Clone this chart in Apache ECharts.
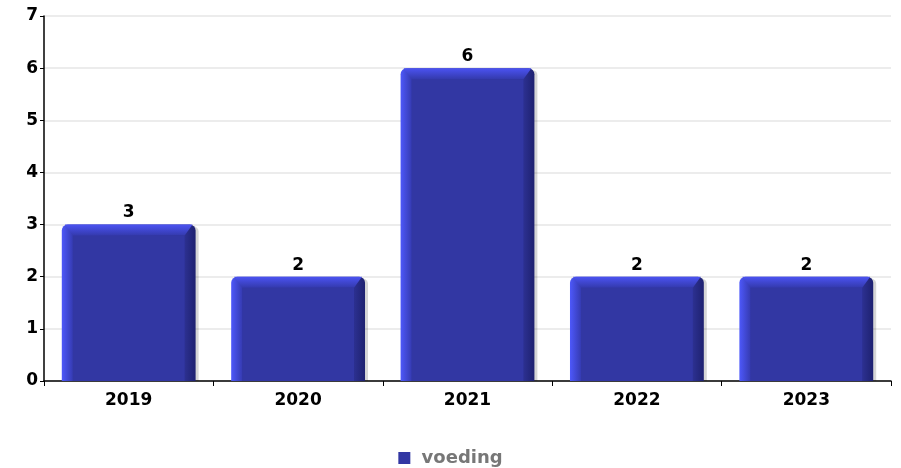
<!DOCTYPE html>
<html>
<head>
<meta charset="utf-8">
<script src="https://cdn.jsdelivr.net/npm/echarts@6/dist/echarts.min.js"></script>
<style>
html,body{margin:0;padding:0;background:#fff;}
#chart{width:901px;height:468px;}
</style>
</head>
<body>
<div id="chart"></div>
<script>
const categories = ['2019', '2020', '2021', '2022', '2023'];
const seriesName = 'voeding';
const values = [3, 2, 6, 2, 2];
const yTicks = [0, 1, 2, 3, 4, 5, 6, 7];

const FONT = '"DejaVu Sans", sans-serif';
const chart = echarts.init(document.getElementById('chart'));

function renderItem(params, api) {
  const idx = api.value(0);
  const v = api.value(1);
  const top = api.coord([idx, v]);
  const base = api.coord([idx, 0]);
  const w = api.size([1, 0])[0] * 0.79;
  const l = top[0] - w / 2, r = top[0] + w / 2, t = top[1], b = base[1];
  const bv = 11;
  const h = b - t;
  return {
    type: 'group',
    children: [
      { type: 'rect', shape: { x: l + 3, y: t + 2, width: w, height: h - 2, r: [5, 5, 0, 0] },
        style: { fill: 'rgba(0,0,0,0.16)' } },
      { type: 'rect', shape: { x: l, y: t, width: w, height: h, r: [6, 6, 0, 0] },
        style: { fill: new echarts.graphic.LinearGradient(0, 0, 1, 0, [
          { offset: 0, color: '#4d58fa' }, { offset: 0.085, color: '#353ab0' },
          { offset: 0.5, color: '#3237a3' },
          { offset: 0.915, color: '#2d3192' }, { offset: 1, color: '#1e2170' }]) } },
      { type: 'polygon', shape: { points: [[l + 3, t], [r - 3, t], [r - bv, t + bv], [l + bv, t + bv]] },
        style: { fill: new echarts.graphic.LinearGradient(0, 0, 0, 1, [
          { offset: 0, color: '#4b53f2' }, { offset: 1, color: '#343aad' }]) } },
      { type: 'rect', shape: { x: l + bv, y: t + bv, width: w - 2 * bv, height: h - bv },
        style: { fill: '#3237a3' } },
      { type: 'text', style: { text: String(v), x: top[0], y: t - 3, align: 'center', verticalAlign: 'bottom',
        fill: '#000', font: 'bold 17px ' + FONT } }
    ]
  };
}

chart.setOption({
  animation: false,
  grid: { left: 44, right: 10, top: 16, bottom: 87 },
  legend: {
    top: 444,
    left: 'center',
    data: [{ name: seriesName, icon: 'rect' }],
    itemWidth: 12, itemHeight: 12, itemGap: 10,
    formatter: ' {name}',
    textStyle: { color: '#777', fontWeight: 'bold', fontSize: 18, fontFamily: FONT }
  },
  xAxis: {
    type: 'category',
    data: categories,
    axisLine: { lineStyle: { color: '#000', width: 1.5 } },
    axisTick: { show: true, length: 5, lineStyle: { color: '#000' }, alignWithLabel: false },
    axisLabel: { color: '#000', fontWeight: 'bold', fontSize: 17, fontFamily: FONT, margin: 11 }
  },
  yAxis: {
    type: 'value',
    min: yTicks[0], max: yTicks[yTicks.length - 1], interval: 1,
    axisLine: { show: true, lineStyle: { color: '#000', width: 1.5 } },
    axisTick: { show: true, length: 4, lineStyle: { color: '#000' } },
    axisLabel: { color: '#000', fontWeight: 'bold', fontSize: 17, fontFamily: FONT, margin: 6 },
    splitLine: { lineStyle: { color: '#e6e6e6', width: 1.5 } }
  },
  series: [{
    name: seriesName,
    type: 'custom',
    renderItem: renderItem,
    itemStyle: { color: '#3237a3' },
    encode: { x: 0, y: 1 },
    data: values.map((v, i) => [i, v])
  }]
});
</script>
</body>
</html>
